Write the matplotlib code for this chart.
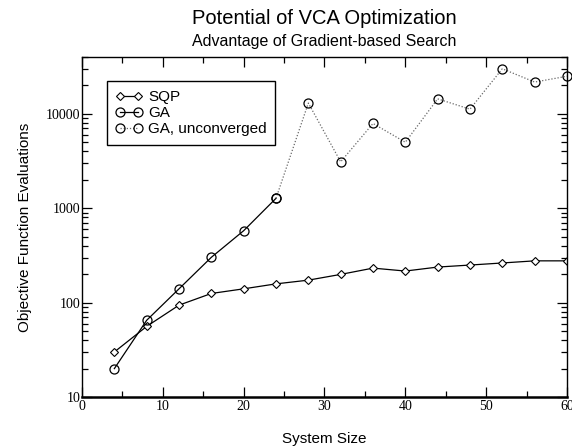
import numpy as np
import matplotlib
matplotlib.use('Agg')
import matplotlib.pyplot as plt
from matplotlib import ticker

# data
size = [4, 8, 12, 16, 20, 24, 28, 32, 36, 40, 44, 48, 52, 56, 60]
sqp = [30, 56, 94, 125, 140, 158, 173, 199, 232, 216, 238, 250, 263, 277, 277]
ga_size = [4, 8, 12, 16, 20, 24]
ga = [20, 65, 140, 302, 578, 1273]
ga_unc_size = [24, 28, 32, 36, 40, 44, 48, 52, 56, 60]
ga_unc = [1273, 13000, 3100, 7900, 5000, 14400, 11200, 30000, 21700, 25000]

sans = 'Liberation Sans'
serif = 'Liberation Serif'

fig = plt.figure(figsize=(5.72, 4.48), dpi=100)
ax = fig.add_axes([0.1434, 0.1138, 0.8478, 0.759])

ax.plot(size, sqp, color='black', lw=0.9, marker='D', ms=4.5, mfc='white',
        mec='black', mew=0.8, label='SQP')
ax.plot(ga_size, ga, color='black', lw=0.9, marker='o', ms=6.5, mfc='none',
        mec='black', mew=0.9, label='GA')
ax.plot(ga_unc_size, ga_unc, color='dimgray', lw=0.9, ls=(0, (1, 1.5)),
        marker='o', ms=6.5, mfc='none', mec='black', mew=0.9,
        label='GA, unconverged', clip_on=False)

ax.set_yscale('log')
ax.set_xlim(0, 60)
ax.set_ylim(10, 40000)
ax.xaxis.set_major_locator(ticker.MultipleLocator(10))
ax.xaxis.set_minor_locator(ticker.MultipleLocator(5))
ax.yaxis.set_major_locator(ticker.LogLocator(base=10, numticks=10))
ax.yaxis.set_minor_locator(ticker.LogLocator(base=10, subs=np.arange(2, 10), numticks=10))
ax.yaxis.set_major_formatter(ticker.FuncFormatter(lambda v, p: '%d' % v))
ax.yaxis.set_minor_formatter(ticker.NullFormatter())

ax.tick_params(which='both', direction='in', top=True, right=True, color='black')
ax.tick_params(which='major', length=7, width=0.9)
ax.tick_params(which='minor', length=4, width=0.9)
ax.tick_params(axis='both', which='major', labelsize=10)
for lab in ax.get_xticklabels() + ax.get_yticklabels():
    lab.set_fontfamily(serif)
ax.tick_params(axis='x', pad=2)
ax.tick_params(axis='y', pad=1)

for side in ['left', 'top', 'right']:
    ax.spines[side].set_linewidth(1.0)
ax.spines['bottom'].set_linewidth(1.8)

ax.set_xlabel('System Size', fontfamily=sans, fontsize=11, labelpad=14)
ax.set_ylabel('Objective Function Evaluations', fontfamily=sans, fontsize=11, labelpad=10)

fig.text(0.567, 0.946, 'Potential of VCA Optimization', ha='center', va='baseline',
         fontfamily=sans, fontsize=14.5)
fig.text(0.567, 0.898, 'Advantage of Gradient-based Search', ha='center', va='baseline',
         fontfamily=sans, fontsize=11.5)

leg = ax.legend(loc='upper left', bbox_to_anchor=(0.051, 0.928), frameon=True,
                fancybox=False, edgecolor='black', framealpha=1,
                prop={'family': sans, 'size': 11}, handlelength=1.8, numpoints=2,
                handletextpad=0.35, borderpad=0.55, labelspacing=0.15,
                borderaxespad=0)
leg.get_frame().set_linewidth(1.0)

fig.savefig('out.png', dpi=100)
